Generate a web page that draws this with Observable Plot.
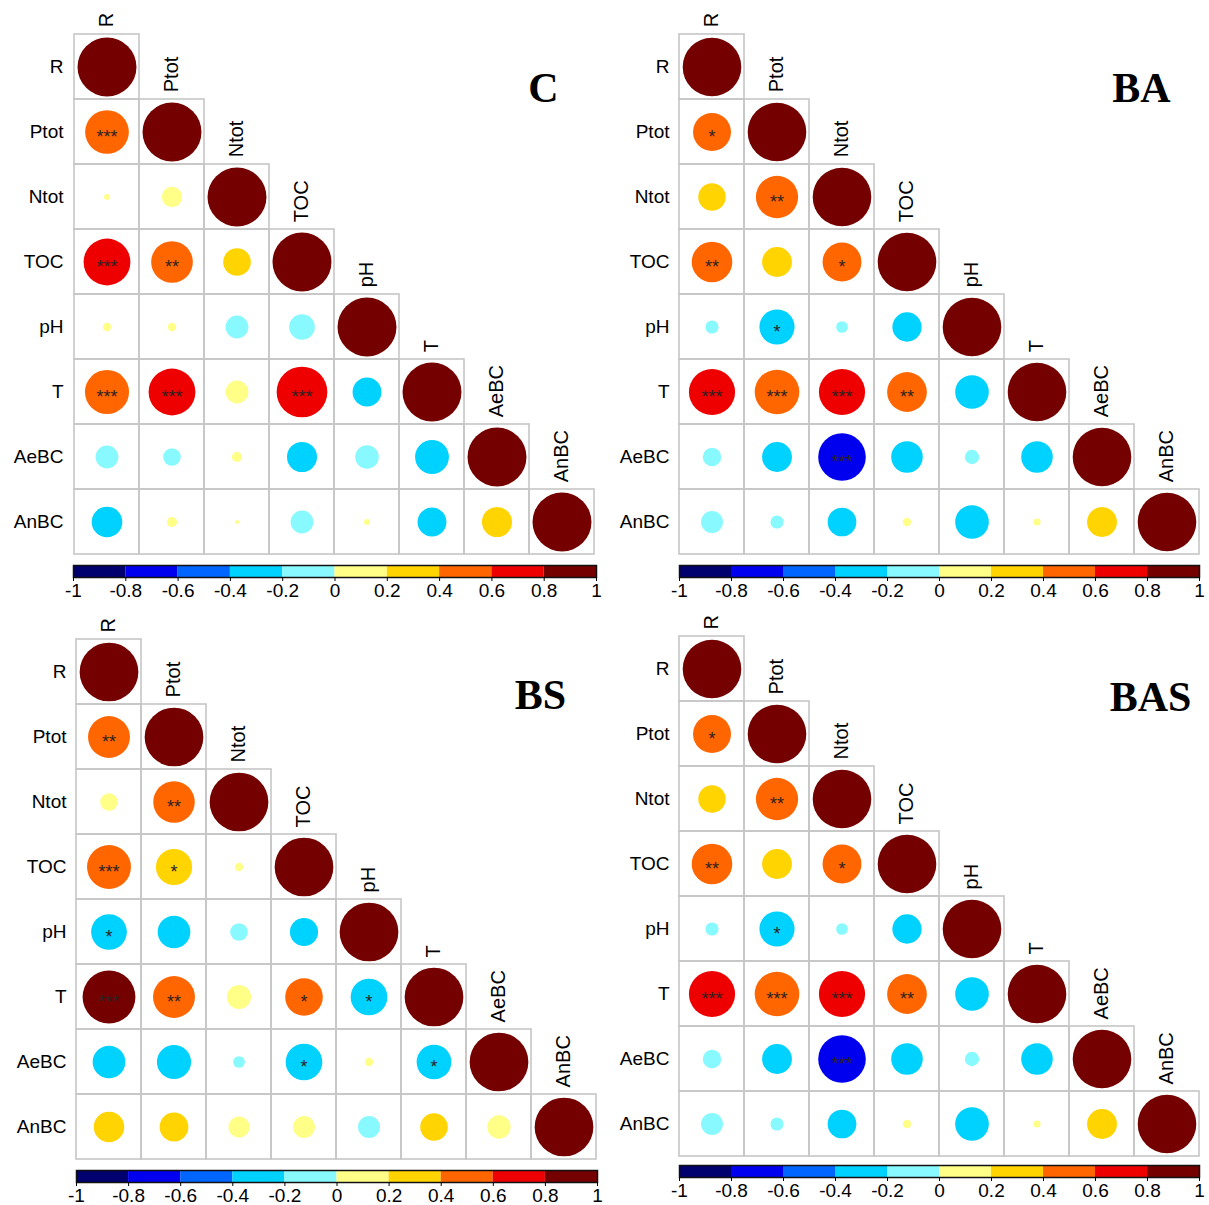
<!DOCTYPE html>
<html>
<head>
<meta charset="utf-8">
<script src="https://cdn.jsdelivr.net/npm/d3@7"></script>
<script src="https://cdn.jsdelivr.net/npm/@observablehq/plot@0.6"></script>
<style>
  html, body { margin: 0; padding: 0; background: #fff; }
  #root { position: relative; width: 1209px; height: 1205px; overflow: hidden; }
  .abs { position: absolute; }
</style>
</head>
<body>
<div id="root"></div>
<script>
// ---------- data ----------
const vars = ["R", "Ptot", "Ntot", "TOC", "pH", "T", "AeBC", "AnBC"];
const breaks = [-1, -0.8, -0.6, -0.4, -0.2, 0, 0.2, 0.4, 0.6, 0.8, 1];
const palette = ["#00006E", "#0000EE", "#0066FF", "#00D2FF", "#88FAFF",
                 "#FFFF88", "#FFD400", "#FF6600", "#EE0000", "#740000"];

// lower triangles (row by row, diagonal included)
const C_r = [
  [1],
  [0.55, 1],
  [0.01, 0.12, 1],
  [0.63, 0.50, 0.22, 1],
  [0.02, 0.02, -0.15, -0.19, 1],
  [0.56, 0.63, 0.15, 0.74, -0.24, 1],
  [-0.15, -0.09, 0.03, -0.26, -0.16, -0.33, 1],
  [-0.27, 0.03, 0.005, -0.15, 0.01, -0.24, 0.26, 1]
];
const C_sig = [
  [""],
  ["***", ""],
  ["", "", ""],
  ["***", "**", "", ""],
  ["", "", "", "", ""],
  ["***", "***", "", "***", "", ""],
  ["", "", "", "", "", "", ""],
  ["", "", "", "", "", "", "", ""]
];

const BA_r = [
  [1],
  [0.42, 1],
  [0.22, 0.52, 1],
  [0.48, 0.26, 0.44, 1],
  [-0.05, -0.36, -0.04, -0.25, 1],
  [0.62, 0.58, 0.62, 0.46, -0.33, 1],
  [-0.10, -0.26, -0.66, -0.29, -0.06, -0.29, 1],
  [-0.14, -0.05, -0.24, 0.02, -0.33, 0.015, 0.26, 1]
];
const BA_sig = [
  [""],
  ["*", ""],
  ["", "**", ""],
  ["**", "", "*", ""],
  ["", "*", "", "", ""],
  ["***", "***", "***", "**", "", ""],
  ["", "", "***", "", "", "", ""],
  ["", "", "", "", "", "", "", ""]
];

const BS_r = [
  [1],
  [0.51, 1],
  [0.09, 0.50, 1],
  [0.56, 0.38, 0.02, 1],
  [-0.37, -0.31, -0.09, -0.23, 1],
  [0.81, 0.51, 0.17, 0.41, -0.39, 1],
  [-0.31, -0.34, -0.04, -0.39, 0.02, -0.35, 1],
  [0.27, 0.24, 0.13, 0.14, -0.14, 0.22, 0.16, 1]
];
const BS_sig = [
  [""],
  ["**", ""],
  ["", "**", ""],
  ["***", "*", "", ""],
  ["*", "", "", "", ""],
  ["***", "**", "", "*", "*", ""],
  ["", "", "", "*", "", "*", ""],
  ["", "", "", "", "", "", "", ""]
];

const BAS_r = [
  [1],
  [0.42, 1],
  [0.22, 0.52, 1],
  [0.48, 0.26, 0.44, 1],
  [-0.05, -0.36, -0.04, -0.25, 1],
  [0.62, 0.58, 0.62, 0.46, -0.33, 1],
  [-0.10, -0.26, -0.66, -0.29, -0.06, -0.29, 1],
  [-0.14, -0.05, -0.24, 0.02, -0.33, 0.015, 0.26, 1]
];
const BAS_sig = [
  [""],
  ["*", ""],
  ["", "**", ""],
  ["**", "", "*", ""],
  ["", "*", "", "", ""],
  ["***", "***", "***", "**", "", ""],
  ["", "", "***", "", "", "", ""],
  ["", "", "", "", "", "", "", ""]
];

// ---------- layout ----------
const panels = [
  {title: "C",   r: C_r,   sig: C_sig,   left: 0,   top: 0,   gL: 72, gT: 32, gW: 524, gH: 524, cbTop: 565, tdx: -53, tdy: 56},
  {title: "BA",  r: BA_r,  sig: BA_sig,  left: 605, top: 0,   gL: 73, gT: 32, gW: 521, gH: 524, cbTop: 565, tdx: -58, tdy: 56},
  {title: "BS",  r: BS_r,  sig: BS_sig,  left: 0,   top: 605, gL: 75, gT: 33, gW: 522, gH: 522, cbTop: 1170, tdx: -57, tdy: 57},
  {title: "BAS", r: BAS_r, sig: BAS_sig, left: 605, top: 605, gL: 73, gT: 30, gW: 521, gH: 521, cbTop: 1165, tdx: -49, tdy: 62}
];

const colorScale = {type: "threshold", domain: breaks.slice(1, -1), range: palette};
const sans = "'Liberation Sans', Arial, sans-serif";
const root = document.getElementById("root");

function place(el, left, top) {
  el.classList.add("abs");
  el.style.left = left + "px";
  el.style.top = top + "px";
  root.appendChild(el);
}

for (const p of panels) {
  const data = [];
  vars.forEach((rv, i) => p.r[i].forEach((v, j) =>
    data.push({row: rv, col: vars[j], r: v, sig: p.sig[i][j]})));
  const cellW = p.gW / vars.length, cellH = p.gH / vars.length;
  const mR = 6;
  const width = p.gL + p.gW + mR;
  const height = p.gT + p.gH + 2;

  const chart = Plot.plot({
    width, height,
    marginLeft: p.gL, marginTop: p.gT, marginRight: mR, marginBottom: 2,
    style: {fontFamily: sans, fontSize: "19px", background: "transparent", overflow: "visible"},
    x: {domain: vars, padding: 0, axis: null},
    y: {domain: vars, padding: 0, axis: null},
    color: colorScale,
    r: {type: "sqrt", domain: [0, 1], range: [0, 0.45 * Math.min(cellW, cellH)]},
    marks: [
      Plot.cell(data, {x: "col", y: "row", fill: "none", stroke: "#c6c6c6", strokeWidth: 1.6}),
      Plot.dot(data, {x: "col", y: "row", r: d => Math.abs(d.r), fill: "r", stroke: "none"}),
      Plot.text(data.filter(d => d.sig), {x: "col", y: "row", text: "sig", fill: "#2e2222",
        fontSize: 18, dy: 5}),
      Plot.axisY({label: null, tickSize: 0, tickPadding: 9, fontSize: 19, fill: "#000"}),
      Plot.text(vars, {x: d => d, y: d => d, text: d => d, rotate: -90, textAnchor: "start",
        dy: -(cellH / 2 + 7), fontSize: 20, fill: "#000"}),
      Plot.text([p.title], {frameAnchor: "top-right", text: d => d, dx: p.tdx, dy: p.tdy,
        textAnchor: "middle", lineAnchor: "middle", fontSize: 42, fontWeight: "bold",
        fontFamily: "'Liberation Serif', 'Times New Roman', serif", fill: "#000"})
    ]
  });
  place(chart, p.left, p.top);

  // colour bar
  const bins = palette.map((c, i) => ({a: breaks[i], b: breaks[i + 1]}));
  const cbMT = 5;
  const bar = Plot.plot({
    width, height: cbMT + 12 + 28,
    marginLeft: p.gL + 1, marginRight: mR, marginTop: cbMT, marginBottom: 28,
    style: {fontFamily: sans, fontSize: "19px", background: "transparent", overflow: "visible"},
    x: {domain: [-1, 1], axis: null},
    color: colorScale,
    marks: [
      Plot.rect(bins, {x1: "a", x2: "b", fill: d => (d.a + d.b) / 2}),
      Plot.frame({stroke: "#111", strokeWidth: 1.5}),
      Plot.axisX({label: null, ticks: breaks, tickSize: 4, tickPadding: 2, fontSize: 19, fill: "#000",
        stroke: "#000", tickFormat: d => String(+d.toFixed(1))})
    ]
  });
  place(bar, p.left, p.cbTop - cbMT);
}
</script>
</body>
</html>
